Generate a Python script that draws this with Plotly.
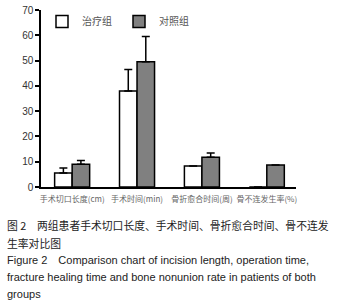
import plotly.graph_objects as go

categories = ["手术切口长度(cm)", "手术时间(min)", "骨折愈合时间(周)", "骨不连发生率(%)"]
treat_vals = [5.5, 38.0, 8.3, 0.0]
treat_err = [2.0, 8.5, 0.0, 0.0]
ctrl_vals = [9.0, 49.5, 11.8, 8.7]
ctrl_err = [1.5, 10.0, 1.6, 0.0]
series_names = ["治疗组", "对照组"]
y_ticks = [0, 10, 20, 30, 40, 50, 60, 70]

caption_lines = [
    "图 2　两组患者手术切口长度、手术时间、骨折愈合时间、骨不连发",
    "生率对比图",
    "Figure 2　Comparison chart of incision length, operation time,",
    "fracture healing time and bone nonunion rate in patients of both",
    "groups",
]

fig = go.Figure()
fig.add_bar(
    x=categories, y=treat_vals, name=series_names[0],
    marker=dict(color="white", line=dict(color="black", width=1.5)),
    error_y=dict(type="data", symmetric=False, array=treat_err,
                 arrayminus=[0] * 4, color="black", thickness=1.5, width=4),
)
fig.add_bar(
    x=categories, y=ctrl_vals, name=series_names[1],
    marker=dict(color="#808080", line=dict(color="black", width=1.5)),
    error_y=dict(type="data", symmetric=False, array=ctrl_err,
                 arrayminus=[0] * 4, color="black", thickness=1.5, width=4),
)

L, R, T, B = 41, 47, 10, 113
W, H = 343, 300
ph = H - T - B
pw = W - L - R

def py(pix):
    return (H - B - pix) / ph

def px(pix):
    return (pix - L) / pw

annotations = []
line_ys = [225, 243, 260, 277, 294]
fams = ["Noto Sans CJK SC", "Noto Sans CJK SC", "Liberation Sans", "Liberation Sans", "Liberation Sans"]
sizes = [10.8, 10.8, 11, 11, 11]
for txt, yy, fam, sz in zip(caption_lines, line_ys, fams, sizes):
    annotations.append(dict(
        text=txt, xref="paper", yref="paper", x=px(5), y=py(yy),
        xanchor="left", yanchor="middle", showarrow=False,
        font=dict(family=fam, size=sz, color="#222"),
    ))

fig.update_layout(
    width=W, height=H,
    margin=dict(l=L, r=R, t=T, b=B, pad=0, autoexpand=False),
    paper_bgcolor="white", plot_bgcolor="white",
    barmode="group", bargap=0.46, bargroupgap=0.0,
    font=dict(family="Liberation Sans, Arial", color="#333"),
    showlegend=True,
    legend=dict(orientation="h", xref="container", yref="container",
                x=42 / W, y=1 - 7 / H, xanchor="left", yanchor="top",
                font=dict(family="Noto Sans CJK SC", size=10, color="#555"),
                bgcolor="rgba(0,0,0,0)", itemwidth=30, tracegroupgap=0,
                entrywidth=32),
    annotations=annotations,
    xaxis=dict(
        showline=True, linecolor="black", linewidth=1.5,
        ticks="", showgrid=False, zeroline=False, tickangle=0,
        ticklabelstandoff=4, automargin=False,
        tickfont=dict(family="Noto Sans CJK SC", size=8, color="#666"),
        range=[-0.48, 3.45], fixedrange=True,
    ),
    yaxis=dict(
        range=[0, 70], tickvals=y_ticks, automargin=False,
        showline=True, linecolor="black", linewidth=1.5,
        ticks="outside", ticklen=4, tickwidth=1.5, tickcolor="black",
        showgrid=False, zeroline=False,
        tickfont=dict(family="Liberation Sans", size=10, color="#333"),
    ),
)

fig.write_html("out.html", config={"displayModeBar": False},
               post_script="document.body.style.margin='0';document.body.style.overflow='hidden';")
